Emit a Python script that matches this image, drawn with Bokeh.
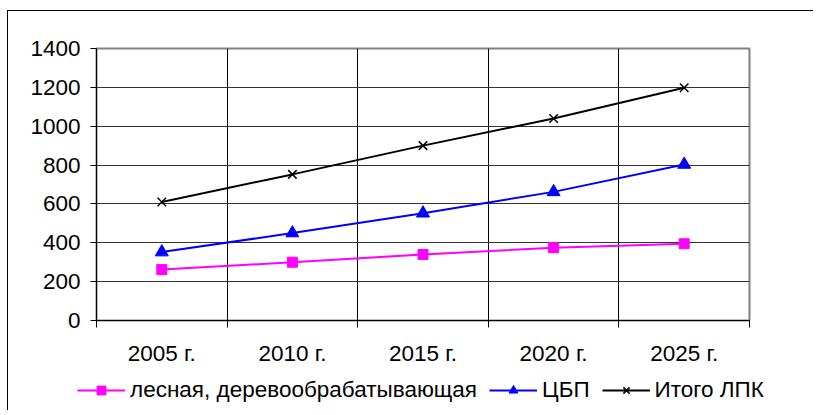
from bokeh.plotting import figure
from bokeh.layouts import column
from bokeh.models import FixedTicker, Legend, LegendItem, Range1d
from bokeh.embed import file_html
from bokeh.resources import INLINE

categories = ["2005 г.", "2010 г.", "2015 г.", "2020 г.", "2025 г."]
les = [262, 300, 340, 375, 395]
cbp = [352, 450, 552, 662, 803]
itogo = [610, 752, 900, 1040, 1198]
y_ticks = [0, 200, 400, 600, 800, 1000, 1200, 1400]
names = ["лесная, деревообрабатывающая", "ЦБП", "Итого ЛПК"]

xs = [i + 0.5 for i in range(len(categories))]
bounds = list(range(len(categories) + 1))

FONT = "Liberation Sans"
FS = "22.5px"
COLORS = ["#FF00FF", "#0000FF", "black"]

p = figure(output_backend="svg", toolbar_location=None,
           frame_width=653, frame_height=272,
           min_border_left=88, min_border_top=37, min_border_right=64, min_border_bottom=48,
           x_range=Range1d(0, len(categories)), y_range=Range1d(0, 1400),
           background_fill_color="white", border_fill_color="white")

p.outline_line_color = "#808080"
p.outline_line_width = 2

# x axis
p.xaxis.ticker = FixedTicker(ticks=xs, minor_ticks=bounds)
p.xaxis.major_label_overrides = {x: c for x, c in zip(xs, categories)}
p.xaxis.major_tick_line_color = None
p.xaxis.minor_tick_in = 0
p.xaxis.minor_tick_out = 7
p.xaxis.minor_tick_line_color = "black"
p.xaxis.axis_line_color = "black"
p.xaxis.major_label_standoff = 13
p.xaxis.major_label_text_font = FONT
p.xaxis.major_label_text_font_size = FS
p.xaxis.major_label_text_color = "black"

# y axis
p.yaxis.ticker = FixedTicker(ticks=y_ticks, minor_ticks=[])
p.yaxis.major_tick_in = 0
p.yaxis.major_tick_out = 6
p.yaxis.major_tick_line_color = "black"
p.yaxis.axis_line_color = "black"
p.yaxis.major_label_standoff = 10
p.yaxis.major_label_text_font = FONT
p.yaxis.major_label_text_font_size = FS
p.yaxis.major_label_text_color = "black"

# grids
p.xgrid.ticker = FixedTicker(ticks=bounds)
p.xgrid.grid_line_color = "black"
p.ygrid.ticker = FixedTicker(ticks=y_ticks)
p.ygrid.grid_line_color = "#333333"


def draw(fig, series):
    out = []
    markers = [("square", 10, 1), ("triangle", 13, 1), ("x", 12, 1.5)]
    for vals, col, (mk, sz, lw) in zip(series, COLORS, markers):
        ln = fig.line(xs, vals, line_color=col, line_width=2)
        if mk == "x":
            sc = fig.scatter(xs, vals, marker=mk, size=sz, line_color=col, line_width=lw)
        else:
            sc = fig.scatter(xs, vals, marker=mk, size=sz, fill_color=col, line_color=col)
        out.append([ln, sc])
    return out


draw(p, [les, cbp, itogo])

can_unalign = "frame_align" in p.properties()

# legend strip (a separate figure; its own series are outside its visible ranges)
if can_unalign:
    lf = figure(output_backend="svg", toolbar_location=None,
                width=805, height=42, min_border=0,
                min_border_left=0, min_border_right=0, min_border_top=0, min_border_bottom=0,
                x_axis_location=None, y_axis_location=None,
                x_range=Range1d(100, 101), y_range=Range1d(5000, 5001),
                background_fill_color="white", border_fill_color="white")
    try:
        lf.frame_align = False
        p.frame_align = False
    except Exception:
        pass
    loc, pad, place = (69, 7), 0, "center"
else:
    lf = figure(output_backend="svg", toolbar_location=None,
                frame_width=653, frame_height=1, min_border=0,
                min_border_left=88, min_border_right=64, min_border_top=0, min_border_bottom=0,
                x_axis_location=None, y_axis_location=None,
                x_range=Range1d(100, 101), y_range=Range1d(5000, 5001),
                background_fill_color="white", border_fill_color="white")
    loc, pad, place = "center", 11, "below"
lf.outline_line_color = None
lf.grid.visible = False
legend_rs = draw(lf, [les, cbp, itogo])

legend = Legend(items=[LegendItem(label=n, renderers=r) for n, r in zip(names, legend_rs)],
                orientation="horizontal", location=loc,
                glyph_width=48, glyph_height=22, label_standoff=5, spacing=12,
                padding=pad, margin=0, border_line_color=None, background_fill_alpha=0,
                label_text_font=FONT, label_text_font_size=FS, label_text_color="black")
lf.add_layout(legend, place)

layout = column(p, lf, spacing=0)
layout.margin = (10, 0, 0, 7)
layout.styles = {"border-left": "1px solid black", "border-top": "1px solid black"}

open("out.html", "w").write(file_html(layout, INLINE))
